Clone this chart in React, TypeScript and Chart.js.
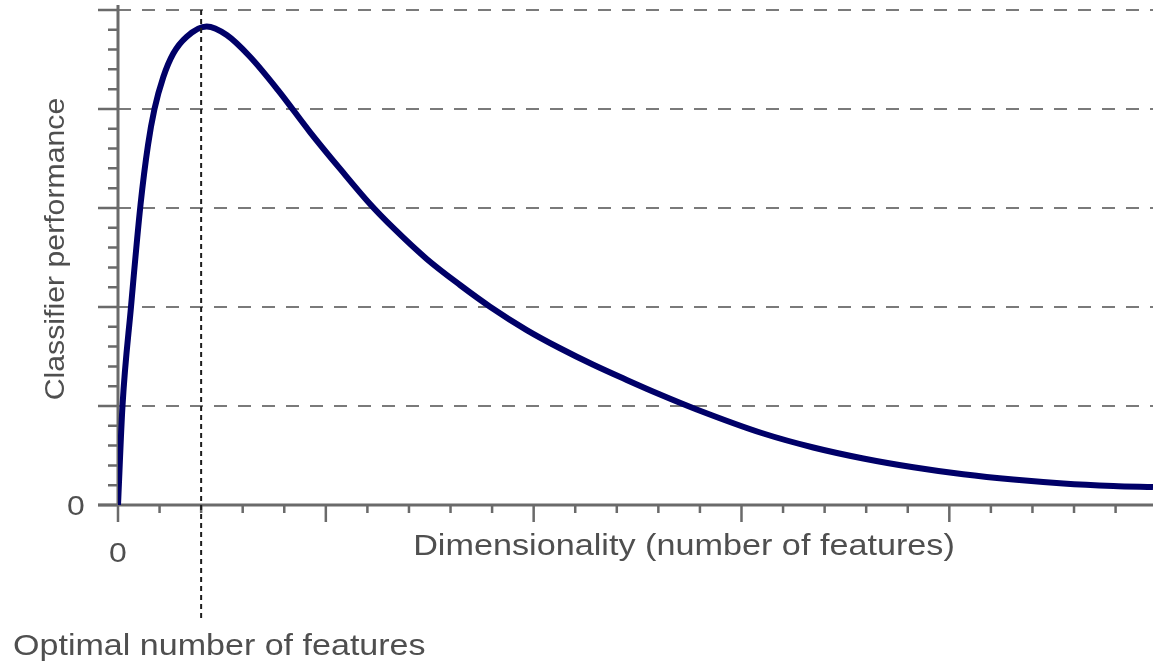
import React, { useEffect, useRef } from "react";
import { Chart, registerables } from "chart.js";

Chart.register(...registerables);

// ---- data ----
const dimensionality = [
  0, 0.108, 0.313, 0.541, 0.722, 0.878, 1.09, 1.33, 1.653, 2.134, 2.615, 3.176, 3.849,
  4.619, 5.365, 6.063, 6.623, 7.427, 8.228, 8.95, 9.833, 10.634, 11.435, 12.238, 13.04,
  13.922, 15.525, 16.728, 17.93, 19.134, 20.336, 21.539, 22.742, 23.945, 24.9,
];
const performance = [
  0, 1.0, 2.003, 3.03, 3.636, 4.0, 4.323, 4.56, 4.73, 4.833, 4.747, 4.528, 4.191,
  3.767, 3.384, 3.04, 2.798, 2.485, 2.222, 2.003, 1.767, 1.583, 1.416, 1.263, 1.116,
  0.965, 0.722, 0.581, 0.47, 0.381, 0.31, 0.257, 0.218, 0.193, 0.181,
];
const optimalFeatures = 2;
const xTickLabels = ["0"];
const yTickLabels = ["0"];
const xAxisTitle = "Dimensionality (number of features)";
const yAxisTitle = "Classifier performance";
const optimalLabel = "Optimal number of features";

const X_MAX = 24.9;
const Y_MAX = 5.05;
const Y_TOP_GRID = 5;
const X_MINOR = 1;
const Y_MINOR = 0.2;

const AXIS_COLOR = "#6a6a6a";
const TEXT_COLOR = "#4f4f4f";
const FONT = '"Liberation Sans", Arial, sans-serif';

function drawText(
  ctx: CanvasRenderingContext2D,
  text: string,
  x: number,
  y: number,
  size: number,
  stretch: number,
  align: CanvasTextAlign,
  rotate = false
) {
  ctx.save();
  ctx.translate(x, y);
  if (rotate) ctx.rotate(-Math.PI / 2);
  ctx.scale(stretch, 1);
  ctx.font = `${size}px ${FONT}`;
  ctx.fillStyle = TEXT_COLOR;
  ctx.textAlign = align;
  ctx.textBaseline = "alphabetic";
  ctx.fillText(text, 0, 0);
  ctx.restore();
}

const axesPlugin = {
  id: "customAxes",
  beforeDatasetsDraw(chart: any) {
    const { ctx, scales } = chart;
    const xs = scales.x;
    const ys = scales.y;
    const x0 = xs.getPixelForValue(0);
    const y0 = ys.getPixelForValue(0);
    ctx.save();
    ctx.strokeStyle = AXIS_COLOR;
    ctx.lineCap = "butt";
    ctx.lineWidth = 3;
    ctx.beginPath();
    ctx.moveTo(x0, ys.getPixelForValue(Y_MAX));
    ctx.lineTo(x0, y0 + 1.5);
    ctx.moveTo(x0 - 20, y0);
    ctx.lineTo(chart.width, y0);
    ctx.stroke();

    ctx.lineWidth = 2.5;
    ctx.beginPath();
    for (let i = 0; i * X_MINOR <= X_MAX + 1e-9; i++) {
      const px = xs.getPixelForValue(i * X_MINOR);
      const len = i % 5 === 0 ? 17 : 8;
      ctx.moveTo(px, y0);
      ctx.lineTo(px, y0 + len);
    }
    for (let i = 0; i * Y_MINOR <= Y_TOP_GRID + 1e-9; i++) {
      const py = ys.getPixelForValue(i * Y_MINOR);
      const len = i % 5 === 0 ? 20 : 10;
      ctx.moveTo(x0, py);
      ctx.lineTo(x0 - len, py);
    }
    ctx.stroke();
    ctx.restore();
  },
  afterDatasetsDraw(chart: any) {
    const { ctx, scales } = chart;
    const xs = scales.x;
    const ys = scales.y;
    const x0 = xs.getPixelForValue(0);
    const y0 = ys.getPixelForValue(0);
    const xo = xs.getPixelForValue(optimalFeatures);

    // dotted optimal line
    ctx.save();
    ctx.strokeStyle = "#1c1c1c";
    ctx.lineWidth = 2;
    ctx.setLineDash([5, 4]);
    ctx.beginPath();
    ctx.moveTo(xo, ys.getPixelForValue(Y_TOP_GRID));
    ctx.lineTo(xo, 622);
    ctx.stroke();
    ctx.restore();

    // labels
    drawText(ctx, xTickLabels[0], x0, y0 + 57, 28, 1.14, "center");
    drawText(ctx, yTickLabels[0], x0 - 42, y0 + 10, 28, 1.14, "center");
    drawText(ctx, xAxisTitle, 684, 555, 30, 1.14, "center");
    drawText(ctx, optimalLabel, 13, 655, 30, 1.135, "left");
    drawText(ctx, yAxisTitle, 64, 249, 27, 1.12, "center", true);
  },
};

export default function App() {
  const canvasRef = useRef<HTMLCanvasElement | null>(null);

  useEffect(() => {
    if (!canvasRef.current) return;
    const chart = new Chart(canvasRef.current, {
      type: "line",
      data: {
        datasets: [
          {
            data: dimensionality.map((x, i) => ({ x, y: performance[i] })),
            borderColor: "#000068",
            borderWidth: 6,
            pointRadius: 0,
            fill: false,
            cubicInterpolationMode: "monotone",
          },
        ],
      },
      options: {
        animation: false,
        responsive: true,
        maintainAspectRatio: false,
        events: [],
        layout: { padding: { left: 118, top: 5, right: 0, bottom: 159 } },
        plugins: { legend: { display: false }, tooltip: { enabled: false } },
        scales: {
          x: {
            type: "linear",
            min: 0,
            max: X_MAX,
            ticks: { display: false, stepSize: 1 },
            grid: { display: false, drawTicks: false },
            border: { display: false },
          },
          y: {
            type: "linear",
            min: 0,
            max: Y_MAX,
            ticks: { display: false, stepSize: 1, includeBounds: false },
            grid: {
              drawTicks: false,
              lineWidth: 2,
              color: (c: any) => {
                const v = c.tick ? c.tick.value : 0;
                return v > 0.5 && Math.abs(v - Math.round(v)) < 1e-6 ? "#7a7a7a" : "rgba(0,0,0,0)";
              },
            },
            border: { display: false, dash: [13, 11] },
          },
        },
      },
      plugins: [axesPlugin],
    });
    return () => chart.destroy();
  }, []);

  return (
    <div style={{ position: "fixed", left: 0, top: 0, width: 1153, height: 664, background: "#fff" }}>
      <canvas ref={canvasRef} />
    </div>
  );
}
